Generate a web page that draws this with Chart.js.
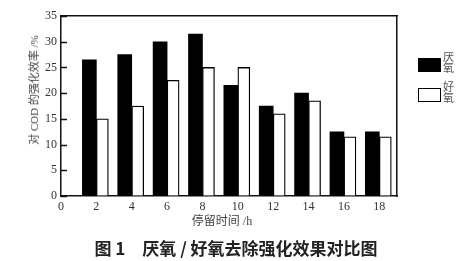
<!DOCTYPE html>
<html>
<head>
<meta charset="utf-8">
<script src="https://cdn.jsdelivr.net/npm/chart.js@4/dist/chart.umd.min.js"></script>
<style>
    html, body { margin: 0; padding: 0; background: #fff; }
    #wrap { position: relative; width: 472px; height: 261px; overflow: hidden; }
    #wrap canvas { position: absolute; left: 0; top: 0; }
    .txt { position: absolute; white-space: nowrap; color: #444; font-family: "Liberation Serif", "Noto Sans CJK SC", serif; }
    #ytitle { left: 33px; top: 90px; font-size: 11px; transform: translate(-50%, -50%) rotate(-90deg); }
    #xtitle { left: 222px; top: 220px; font-size: 12px; transform: translate(-50%, -50%); }
    #caption { left: 236px; top: 247px; font-size: 17px; font-weight: bold; color: #222; font-family: "Noto Sans CJK SC", sans-serif; transform: translate(-50%, -50%); }
    .leg-box { position: absolute; left: 418px; width: 23px; height: 14px; box-sizing: border-box; border: 1.5px solid #000; }
    .leg-txt { position: absolute; left: 443px; font-size: 11px; line-height: 11px; color: #555; font-family: "Noto Sans CJK SC", sans-serif; }
</style>
</head>
<body>
<div id="wrap">
    <canvas id="codChart" width="472" height="261"></canvas>
    <div class="txt" id="ytitle">对 COD 的强化效率 /%</div>
    <div class="txt" id="xtitle">停留时间 /h</div>
    <div class="txt" id="caption">图 1　厌氧 / 好氧去除强化效果对比图</div>
    <div id="legend"></div>
</div>
<script>
// 停留时间 (h) 与两种工艺的强化效率 (%)
const hours = [2, 4, 6, 8, 10, 12, 14, 16, 18];
const anaerobic = [26.5, 27.5, 30, 31.5, 21.5, 17.5, 20, 12.5, 12.5];
const aerobic = [15, 17.5, 22.5, 25, 25, 16, 18.5, 11.5, 11.5];
const seriesNames = ['厌氧', '好氧'];
const seriesFill = ['#000', '#fff'];
const xTicks = [0, 2, 4, 6, 8, 10, 12, 14, 16, 18];
const yTicks = [0, 5, 10, 15, 20, 25, 30, 35];

const toPoints = vals => hours.map((h, i) => ({ x: h, y: vals[i] }));

// 图例：方块 + 竖排文字
const legend = document.getElementById('legend');
seriesNames.forEach((name, i) => {
    const top = 58 + i * 30;
    const box = document.createElement('div');
    box.className = 'leg-box';
    box.style.top = top + 'px';
    box.style.background = seriesFill[i];
    legend.appendChild(box);
    const txt = document.createElement('div');
    txt.className = 'leg-txt';
    txt.style.top = (top - 7) + 'px';
    txt.innerHTML = name.split('').join('<br>');
    legend.appendChild(txt);
});

// y 轴刻度线画在坐标区内侧
const innerTicks = {
    id: 'innerTicks',
    afterDraw(chart) {
        const ctx = chart.ctx;
        const a = chart.chartArea;
        const y = chart.scales.y;
        ctx.save();
        ctx.strokeStyle = '#111';
        ctx.lineWidth = 1.5;
        ctx.beginPath();
        yTicks.forEach(v => {
            const py = Math.round(y.getPixelForValue(v)) + 0.5;
            ctx.moveTo(a.left, py);
            ctx.lineTo(a.left + 6, py);
        });
        ctx.stroke();
        ctx.restore();
    }
};

const tickFont = { family: '"Liberation Serif", serif', size: 12 };
const frameBorder = { display: true, color: '#111', width: 1.5 };
const noGrid = { drawOnChartArea: false, drawTicks: false };

new Chart(document.getElementById('codChart'), {
    type: 'bar',
    data: {
        datasets: [
            {
                label: seriesNames[0],
                data: toPoints(anaerobic),
                backgroundColor: seriesFill[0],
                borderWidth: 0,
                barThickness: 14
            },
            {
                label: seriesNames[1],
                data: toPoints(aerobic),
                backgroundColor: seriesFill[1],
                borderColor: '#000',
                borderWidth: 1.3,
                barThickness: 12
            }
        ]
    },
    options: {
        responsive: false,
        animation: false,
        layout: { padding: { left: 0, top: 16, right: 75, bottom: 0 } },
        plugins: {
            legend: { display: false },
            tooltip: { enabled: false }
        },
        scales: {
            x: {
                type: 'linear',
                offset: false,
                min: 0,
                max: 19,
                afterFit: s => { s.height = 65; },
                afterBuildTicks: s => { s.ticks = xTicks.map(v => ({ value: v })); },
                grid: noGrid,
                border: frameBorder,
                ticks: { padding: 4, color: '#333', font: tickFont, maxRotation: 0 }
            },
            x2: {
                type: 'linear',
                position: 'top',
                offset: false,
                min: 0,
                max: 19,
                afterFit: s => { s.height = 0; },
                grid: noGrid,
                border: frameBorder,
                ticks: { display: false }
            },
            y: {
                min: 0,
                max: 35,
                afterFit: s => { s.width = 61; },
                afterBuildTicks: s => { s.ticks = yTicks.map(v => ({ value: v })); },
                grid: noGrid,
                border: frameBorder,
                ticks: { padding: 4, color: '#333', font: tickFont }
            },
            y2: {
                position: 'right',
                min: 0,
                max: 35,
                afterFit: s => { s.width = 0; },
                grid: noGrid,
                border: frameBorder,
                ticks: { display: false }
            }
        }
    },
    plugins: [innerTicks]
});
</script>
</body>
</html>
